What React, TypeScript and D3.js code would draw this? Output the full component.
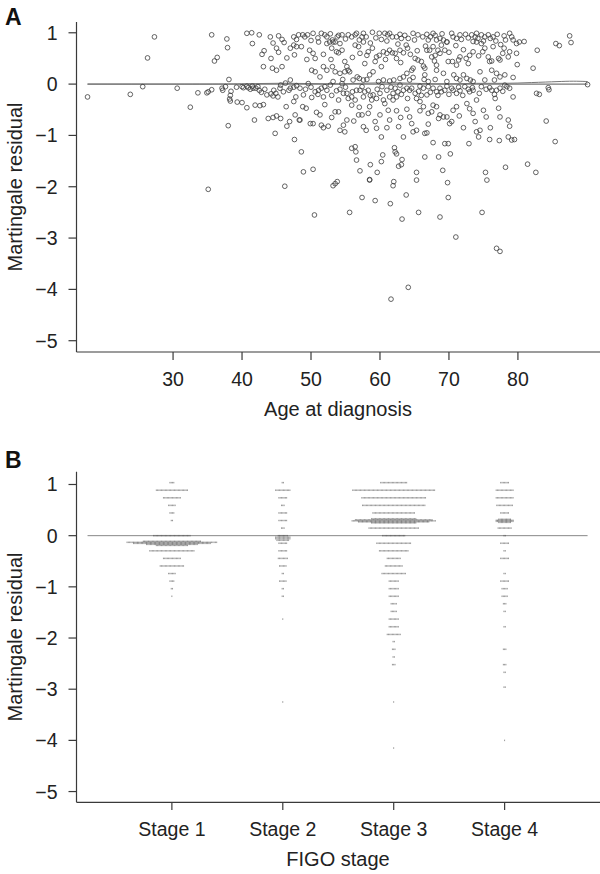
import React from 'react';
import * as d3 from 'd3';

const W = 600;
const H = 874;
const FONT = '"Liberation Sans", Arial, Helvetica, sans-serif';

const residualTicks = [1, 0, -1, -2, -3, -4, -5];
const ageTicks = [30, 40, 50, 60, 70, 80];
const stageLabels = ['Stage 1', 'Stage 2', 'Stage 3', 'Stage 4'];

// Panel A: [age at diagnosis, martingale residual]
const agePoints: [number, number][] = [
  [17.6,-0.25],[23.8,-0.20],[25.6,-0.05],[27.3,0.92],[26.3,0.51],[30.6,-0.08],[32.5,-0.45],[33.6,-0.17],
  [35.1,-0.15],[34.9,-0.17],[35.6,-0.11],[35.6,0.96],[36.0,0.45],[36.4,0.52],[35.1,-2.05],[37.1,-0.08],
  [37.2,-0.12],[37.8,0.88],[37.9,0.71],[38.1,0.09],[37.6,-0.05],[38.3,-0.22],[38.2,-0.29],[38.3,-0.33],
  [38.4,-0.14],[38.0,-0.81],[39.3,-0.35],[40.0,-0.36],
  [39.2,-0.06],[40.0,-0.05],[40.2,-0.07],[40.7,-0.04],[40.9,-0.07],[41.2,-0.10],[41.5,-0.04],[41.6,-0.08],
  [42.0,-0.08],[42.3,-0.05],[42.5,-0.12],
  [40.7,-0.46],[40.7,0.99],[41.4,1.0],[42.5,0.96],[41.5,0.79],[41.8,-0.70],[41.9,-0.41],[42.6,-0.42],
  [43.1,0.34],[43.1,-0.40],[42.9,0.58],[43.2,0.65],[44.2,0.50],[44.1,0.92],[45.3,0.94],[45.8,0.87],
  [46.1,0.81],[44.5,0.80],[45.0,0.70],[45.3,0.62],[44.4,0.31],[45.0,0.27],[45.8,0.34],[46.5,0.51],
  [43.8,-0.67],[44.5,-0.65],[45.0,-0.62],[45.6,-0.67],[46.5,-0.82],[44.8,-0.96],[43.6,-0.21],[44.2,-0.19],
  [44.5,-0.23],[45.2,-0.25],[47.0,0.08],[47.0,-0.08],[47.5,-0.06],[47.9,-0.03],[46.4,-0.44],[47.5,-0.34],
  [47.8,-0.25],[46.9,-0.73],[47.6,-1.08],[47.7,-0.60],[48.3,-0.70],[46.2,-1.99],[47.0,0.70],[47.5,0.76],
  [47.9,0.87],[48.2,0.96],[47.5,0.92],[47.6,0.57],[47.9,0.73],
  [42.8,-0.16],[43.3,-0.10],[44.6,-0.12],[45.5,-0.08],[46.0,-0.15],[46.8,-0.12],[44.9,-0.18],[45.6,-0.02],[46.3,0.02],
  // low outliers
  [50.5,-2.55],[53.2,-1.98],[53.5,-1.94],[53.8,-1.90],[55.6,-2.50],[57.4,-2.21],[58.5,-1.87],[59.3,-2.27],
  [61.5,-2.33],[61.9,-1.98],[62.0,-1.90],[61.6,-4.19],[63.2,-2.63],[63.8,-2.16],[64.1,-3.96],[65.3,-1.87],
  [65.6,-2.50],[68.7,-2.59],[69.8,-1.92],[69.9,-2.21],[71.0,-2.98],[74.8,-2.50],[75.5,-1.87],[76.9,-3.20],[77.4,-3.26],
  // top band
  [48.8,0.96],[49.1,0.92],[49.5,0.96],[50.3,0.99],[51.5,0.99],[52.0,0.96],[52.3,0.92],[53.1,0.86],
  [53.5,0.82],[53.8,0.92],[54.2,0.79],[54.5,0.96],[55.4,0.96],[55.9,0.92],[56.4,0.96],[56.6,0.99],
  [57.4,0.92],[57.6,0.99],[58.0,0.92],[58.9,1.01],[59.9,0.99],[60.7,0.99],[61.1,0.96],[61.4,0.99],
  [61.8,0.92],[62.4,0.92],[63.1,0.89],[64.1,0.89],[64.8,0.99],[65.5,0.96],[66.2,0.92],[67.0,0.86],
  [67.3,0.92],[67.7,0.99],[68.2,0.86],[68.7,0.89],[69.2,0.86],[69.7,0.82],[70.4,0.99],[70.6,0.92],
  [71.1,0.89],[71.6,0.96],[72.4,0.97],[73.3,0.96],[73.8,0.92],[74.2,0.89],[74.7,0.96],[75.2,0.92],
  [75.7,0.96],[76.0,0.89],[76.4,0.92],[77.5,0.77],[78.2,0.86],[78.8,0.99],[79.1,0.92],[79.3,0.86],
  [79.8,0.79],[80.2,0.82],[80.9,0.83],[82.8,0.66],[82.2,0.31],[85.5,0.79],[86.0,0.75],[87.5,0.94],[87.7,0.81],
  [50.0,0.85],[51.0,0.90],[52.8,0.98],[54.0,0.95],[55.0,0.88],[57.0,0.86],[59.4,0.90],[60.2,0.87],
  [62.9,0.97],[63.6,0.95],[65.0,0.86],[66.8,0.97],[68.0,0.95],[69.0,0.98],[71.8,0.87],[72.8,0.90],
  [74.0,0.99],[75.0,0.84],[77.0,0.97],[78.0,0.94],[76.8,0.84],[73.5,0.83],[61.0,0.84],[58.6,0.80],
  // second band
  [48.6,0.73],[49.4,0.48],[50.3,0.60],[50.6,0.50],[51.1,0.82],[52.3,0.79],[52.7,0.82],[52.9,0.48],
  [53.2,0.82],[53.7,0.63],[54.0,0.61],[54.5,0.66],[54.9,0.44],[55.2,0.34],[55.6,0.24],[56.4,0.76],
  [56.9,0.73],[57.1,0.60],[57.6,0.82],[58.1,0.56],[58.3,0.63],[58.9,0.70],[59.3,0.44],[59.5,0.53],
  [59.9,0.56],[60.2,0.34],[60.5,0.63],[61.0,0.60],[61.4,0.66],[61.8,0.61],[62.2,0.60],[62.4,0.50],
  [62.9,0.66],[63.4,0.61],[63.8,0.76],[64.0,0.70],[64.6,0.27],[64.8,0.31],[65.1,0.50],[65.4,0.65],
  [65.5,0.47],[66.0,0.44],[66.3,0.35],[66.5,0.31],[66.8,0.66],[67.2,0.66],[67.5,0.53],[67.7,0.73],
  [68.0,0.56],[68.4,0.66],[68.2,0.37],[68.7,0.60],[68.9,0.76],[69.4,0.66],[69.7,0.82],[69.9,0.44],
  [70.5,0.44],[71.1,0.37],[71.4,0.47],[71.6,0.53],[72.1,0.67],[72.5,0.50],[73.0,0.56],[73.5,0.63],
  [74.0,0.82],[74.7,0.79],[74.9,0.63],[75.2,0.70],[75.7,0.53],[75.9,0.44],[76.2,0.45],[76.4,0.73],
  [77.2,0.50],[77.4,0.47],[78.0,0.70],[78.6,0.53],[78.8,0.63],[79.8,0.60],[79.9,0.38],
  [49.8,0.66],[51.8,0.58],[53.0,0.70],[56.0,0.52],[57.8,0.40],[60.8,0.48],[62.6,0.78],[63.0,0.42],
  [64.4,0.58],[66.6,0.74],[67.9,0.45],[70.0,0.62],[71.0,0.75],[72.8,0.40],[74.3,0.55],[77.8,0.60],
  // third band
  [50.1,0.27],[50.6,0.24],[51.3,0.14],[51.8,0.34],[52.3,0.27],[53.1,0.34],[53.5,0.24],[54.2,0.21],
  [54.6,0.09],[54.9,0.24],[55.4,0.27],[56.1,0.08],[56.7,0.14],[57.0,0.11],[57.6,0.08],[58.1,0.09],
  [58.5,0.18],[59.0,0.24],[59.8,0.05],[60.5,0.08],[61.4,0.06],[62.0,0.08],[62.9,0.11],[63.4,0.14],
  [63.9,0.21],[64.3,0.08],[64.8,0.13],[66.5,0.18],[66.4,0.09],[67.0,0.05],[68.0,0.09],[68.2,0.27],
  [69.2,0.21],[69.7,0.05],[70.7,0.18],[71.1,0.11],[71.6,0.08],[72.1,0.18],[72.6,0.11],[73.1,0.08],
  [73.5,0.05],[74.5,0.24],[75.2,0.08],[76.2,0.27],[76.6,0.08],[76.9,0.21],[77.4,0.14],[78.1,0.18],[79.3,0.13],
  // near zero
  [48.4,-0.08],[48.9,-0.21],[49.6,0.01],[50.1,-0.26],[50.6,-0.15],[51.1,-0.12],[51.5,-0.08],[51.8,-0.25],
  [52.3,-0.12],[52.8,-0.02],[53.2,0.05],[53.7,-0.13],[54.0,-0.31],[54.5,0.01],[54.7,-0.18],[55.2,-0.18],
  [55.4,-0.28],[55.9,-0.25],[56.4,-0.31],[56.6,-0.12],[57.1,-0.12],[57.6,-0.25],[57.8,-0.15],[58.3,-0.12],
  [58.8,-0.31],[59.0,-0.21],[59.5,-0.28],[60.0,-0.18],[60.5,-0.31],[61.0,-0.12],[61.4,-0.25],[61.9,-0.18],
  [62.2,-0.08],[62.4,-0.25],[62.9,-0.02],[63.4,-0.12],[63.9,-0.08],[64.3,-0.12],[64.6,-0.08],[65.1,-0.18],
  [65.3,-0.28],[65.8,-0.04],[66.3,-0.08],[66.8,-0.21],[67.0,-0.05],[67.7,-0.08],[68.2,-0.15],[68.7,-0.08],
  [68.9,-0.15],[69.7,-0.04],[70.4,-0.08],[70.6,-0.12],[71.1,-0.18],[71.6,-0.13],[72.3,-0.05],[73.0,-0.15],
  [73.4,-0.07],[73.5,-0.12],[74.0,-0.31],[74.7,-0.05],[75.9,-0.07],[76.2,-0.12],[76.9,-0.12],[77.4,-0.08],
  [78.1,-0.02],[78.8,-0.08],[79.3,-0.25],[82.7,-0.18],[83.1,-0.20],[84.4,-0.07],[84.5,-0.11],[90.1,-0.01],
  [49.2,-0.10],[50.0,-0.06],[51.0,-0.20],[52.0,-0.05],[53.0,-0.22],[54.2,-0.10],[55.0,-0.06],[56.0,-0.15],
  [57.4,-0.05],[58.6,-0.22],[59.6,-0.10],[60.3,-0.05],[61.6,-0.06],[62.6,-0.15],[63.1,-0.20],[64.0,-0.28],
  [65.6,-0.14],[66.0,-0.22],[67.3,-0.16],[68.4,-0.22],[69.4,-0.12],[70.0,-0.20],[71.4,-0.06],[72.0,-0.22],
  [72.8,-0.10],[74.4,-0.18],[75.4,-0.10],[76.6,-0.20],[77.8,-0.14],[78.4,-0.05],
  // lower band
  [48.8,-0.44],[49.3,-0.47],[48.4,-0.70],[49.9,-0.77],[50.3,-0.77],[51.3,-0.60],[51.5,-0.80],[51.8,-0.85],
  [52.5,-0.82],[53.5,-0.54],[54.0,-0.54],[54.2,-0.90],[54.7,-0.80],[55.2,-0.70],[54.9,-0.93],[55.9,-0.41],
  [56.9,-0.60],[57.4,-0.60],[57.6,-0.83],[58.3,-0.57],[58.5,-0.44],[59.3,-0.73],[59.5,-0.86],[60.2,-1.03],
  [60.7,-0.38],[61.2,-0.51],[61.4,-0.70],[61.9,-0.31],[62.4,-0.52],[62.7,-0.83],[63.4,-1.03],[63.9,-0.49],
  [64.3,-0.64],[64.6,-0.77],[64.8,-0.93],[65.3,-0.90],[65.8,-0.34],[66.3,-0.44],[66.5,-0.96],[66.8,-0.95],
  [67.0,-0.57],[67.5,-0.54],[67.7,-0.41],[68.2,-0.44],[68.5,-0.67],[68.7,-0.60],[69.2,-0.64],[69.4,-1.16],
  [69.7,-0.64],[69.9,-1.16],[70.1,-0.77],[70.4,-0.73],[70.6,-0.51],[71.1,-0.44],[72.1,-0.85],[72.6,-0.38],
  [73.5,-0.57],[73.8,-0.73],[74.0,-0.93],[74.3,-1.03],[74.5,-0.90],[75.0,-0.51],[75.4,-0.64],[75.9,-1.08],
  [76.7,-0.28],[77.2,-0.47],[77.4,-0.64],[77.3,-1.10],[78.6,-0.70],[78.8,-0.82],[78.6,-1.03],[79.1,-1.09],
  [79.5,-1.08],[84.1,-0.72],[85.4,-1.12],[72.9,-1.16],[67.7,-1.14],
  [50.8,-0.55],[52.0,-0.40],[53.0,-0.65],[56.2,-0.72],[57.0,-0.45],[58.0,-0.90],[60.0,-0.60],[61.0,-0.85],
  [63.0,-0.65],[65.8,-0.52],[67.0,-0.78],[71.5,-0.62],[73.0,-0.48],[76.0,-0.85],
  // bottom band
  [48.6,-1.32],[48.9,-1.71],[50.3,-1.66],[55.9,-1.25],[56.4,-1.22],[56.5,-1.32],[56.6,-1.48],[57.1,-1.69],
  [58.5,-1.86],[58.6,-1.57],[59.6,-1.72],[60.2,-1.51],[60.4,-1.38],[62.1,-1.24],[62.2,-1.32],[62.4,-1.36],
  [62.7,-1.60],[63.1,-1.57],[63.2,-1.47],[65.3,-1.72],[66.5,-1.42],[68.5,-1.42],[69.1,-1.68],[70.2,-1.36],
  [75.3,-1.72],[78.2,-1.62],[81.4,-1.56],[82.6,-1.72],
];

// Panel A: smoothed trend
const smoothAges = [17.6, 30, 38, 42, 46, 50, 54, 58, 62, 66, 70, 74, 78, 82, 86, 88, 90.1];
const smoothResiduals = [0.0, 0.0, 0.0, 0.01, 0.02, 0.01, 0.0, 0.02, 0.03, 0.01, 0.0, 0.02, 0.01, 0.03, 0.05, 0.06, 0.05];
const ageRange = [17.6, 90.1];

// Panel B: [residual value, number of stacked patients]
const stage1Rows: [number, number][] = [
  [1.036,4],[0.888,25],[0.74,14],[0.592,6],[0.444,4],[0.296,2],[0,29],
  [-0.11,45],[-0.13,70],[-0.15,60],[-0.17,40],[-0.19,25],
  [-0.296,35],[-0.444,14],[-0.592,19],[-0.74,6],[-0.888,4],[-1.036,2],[-1.184,1],
];
const stage2Rows: [number, number][] = [
  [1.036,2],[0.888,12],[0.74,7],[0.592,3],[0.444,7],[0.296,7],[0.148,3],
  [0.0,8],[-0.03,12],[-0.06,12],[-0.09,10],
  [-0.148,7],[-0.296,7],[-0.444,8],[-0.592,6],[-0.74,2],[-0.888,6],[-1.036,2],[-1.184,2],[-1.63,1],[-3.25,1],
];
const stage3Rows: [number, number][] = [
  [1.036,21],[0.888,64],[0.74,50],[0.592,49],[0.444,33],
  [0.33,35],[0.31,60],[0.29,65],[0.27,55],[0.25,35],
  [0.148,39],[0,18],[-0.148,27],[-0.296,23],[-0.444,11],[-0.592,14],[-0.74,19],[-0.888,8],[-1.036,8],
  [-1.184,8],[-1.33,5],[-1.48,5],[-1.63,8],[-1.78,8],[-1.93,11],[-2.07,2],[-2.22,3],[-2.37,2],[-2.52,3],
  [-3.25,1],[-4.15,1],
];
const stage4Rows: [number, number][] = [
  [1.036,7],[0.888,14],[0.74,14],[0.592,13],[0.444,7],
  [0.32,10],[0.30,14],[0.28,14],[0.26,10],
  [0.148,11],[0,2],[-0.148,7],[-0.296,2],[-0.444,7],[-0.74,2],[-0.888,7],[-1.036,5],[-1.184,5],
  [-1.33,3],[-1.48,2],[-1.78,2],[-2.22,3],[-2.52,3],[-2.67,2],[-2.96,2],[-4.0,1],
];
const stageRows = [stage1Rows, stage2Rows, stage3Rows, stage4Rows];

const AX = '#3a3a3a';
const TXT = '#222';
const fmt = d3.format('d');

function YAxis({ y, left, top, bottom }: { y: d3.ScaleLinear<number, number>; left: number; top: number; bottom: number }) {
  return (
    <g>
      <line x1={left} x2={left} y1={top} y2={bottom} stroke={AX} strokeWidth={1.2} />
      {residualTicks.map((t) => (
        <g key={t}>
          <line x1={left - 8} x2={left} y1={y(t)} y2={y(t)} stroke={AX} strokeWidth={1.2} />
          <text x={left - 19} y={y(t) + 7} textAnchor="end" fontSize={19.5} fill={TXT} fontFamily={FONT}>
            {fmt(t)}
          </text>
        </g>
      ))}
    </g>
  );
}

export default function App() {
  const left = 76.5;
  const right = 600;
  const xA = d3.scaleLinear().domain([16, 91.9]).range([left, right]);
  const yA = d3.scaleLinear().domain([-5.22, 1.21]).range([352, 22]);
  const xB = d3.scaleLinear().domain([0.14, 4.86]).range([left, right]);
  const yB = d3.scaleLinear().domain([-5.21, 1.25]).range([802.3, 471.7]);

  const smoothLine = d3
    .line<number>()
    .x((_, i) => xA(smoothAges[i]))
    .y((d) => yA(d))
    .curve(d3.curveBasis)(smoothResiduals) as string;

  const SP = 1.3; // horizontal stacking offset (px)
  const markPaths = stageRows.map((rows, si) => {
    const cx = xB(si + 1);
    const p = d3.path();
    rows.forEach(([v, n]) => {
      const cy = yB(v);
      for (let i = 0; i < n; i++) {
        const x = cx + (i - (n - 1) / 2) * SP;
        p.moveTo(x, cy - 0.8);
        p.lineTo(x, cy + 0.8);
        p.moveTo(x - 0.3, cy);
        p.lineTo(x + 0.3, cy);
      }
    });
    return p.toString();
  });

  return (
    <svg width={W} height={H} viewBox={`0 0 ${W} ${H}`} style={{ position: 'absolute', left: 0, top: 0, background: '#fff' }}>
      <rect width={W} height={H} fill="#fff" />
      {/* Panel A */}
      <text x={5} y={25} fontSize={23} fontWeight="bold" fontFamily={FONT} fill="#111">A</text>
      <YAxis y={yA} left={left} top={22} bottom={352} />
      <line x1={left} x2={right} y1={352} y2={352} stroke={AX} strokeWidth={1.2} />
      {ageTicks.map((t) => (
        <g key={t}>
          <line x1={xA(t)} x2={xA(t)} y1={352} y2={360} stroke={AX} strokeWidth={1.2} />
          <text x={xA(t)} y={385.5} textAnchor="middle" fontSize={19.5} fill={TXT} fontFamily={FONT}>{t}</text>
        </g>
      ))}
      <text x={338} y={416} textAnchor="middle" fontSize={20} fill={TXT} fontFamily={FONT}>Age at diagnosis</text>
      <text transform={`translate(21.5,187) rotate(-90)`} textAnchor="middle" fontSize={20} fill={TXT} fontFamily={FONT}>
        Martingale residual
      </text>
      <line x1={xA(ageRange[0])} x2={xA(ageRange[1])} y1={yA(0)} y2={yA(0)} stroke="#555" strokeWidth={1} />
      <path d={smoothLine} fill="none" stroke="#777" strokeWidth={1} />
      {agePoints.map(([a, r], i) => (
        <circle key={i} cx={xA(a)} cy={yA(r)} r={2.35} fill="none" stroke="#3c3c3c" strokeWidth={0.8} />
      ))}

      {/* Panel B */}
      <text x={5} y={468} fontSize={23} fontWeight="bold" fontFamily={FONT} fill="#111">B</text>
      <YAxis y={yB} left={left} top={471.7} bottom={802.3} />
      <line x1={left} x2={right} y1={802.3} y2={802.3} stroke={AX} strokeWidth={1.2} />
      {stageLabels.map((s, i) => (
        <g key={s}>
          <line x1={xB(i + 1)} x2={xB(i + 1)} y1={802.3} y2={810} stroke={AX} strokeWidth={1.2} />
          <text x={xB(i + 1)} y={836} textAnchor="middle" fontSize={19.5} fill={TXT} fontFamily={FONT}>{s}</text>
        </g>
      ))}
      <text x={338} y={866} textAnchor="middle" fontSize={20} fill={TXT} fontFamily={FONT}>FIGO stage</text>
      <text transform={`translate(21.5,637) rotate(-90)`} textAnchor="middle" fontSize={20} fill={TXT} fontFamily={FONT}>
        Martingale residual
      </text>
      <line x1={xA(ageRange[0])} x2={xA(ageRange[1])} y1={yB(0)} y2={yB(0)} stroke="#888" strokeWidth={1} />
      {markPaths.map((d, i) => (
        <path key={i} d={d} fill="none" stroke="#444" strokeWidth={0.55} strokeOpacity={0.75} />
      ))}
    </svg>
  );
}
